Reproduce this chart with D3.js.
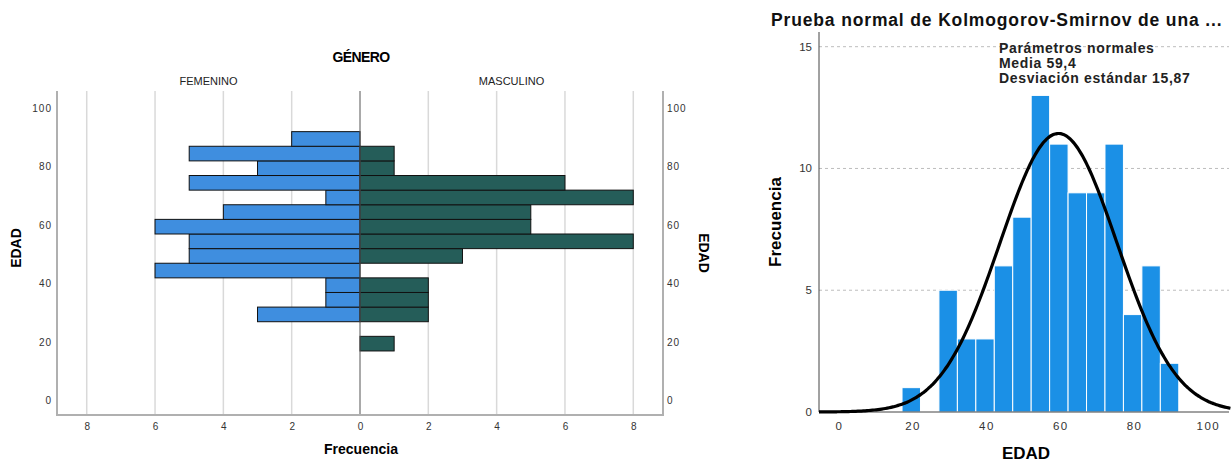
<!DOCTYPE html>
<html>
<head>
<meta charset="utf-8">
<script src="https://d3js.org/d3.v7.min.js"></script>
<style>
body{margin:0;background:#fff;}
svg{display:block;}
text{font-family:"Liberation Sans",Arial,sans-serif;}
</style>
</head>
<body></body>
<script>
const W = 1232, H = 463;

// age bins (lower edges, width 5)
const binStarts = [17,22,27,32,37,42,47,52,57,62,67,72,77,82,87];
const femenino  = [0, 0, 3, 1, 1, 6, 5, 5, 6, 4, 1, 5, 3, 5, 2];
const masculino = [1, 0, 2, 2, 2, 0, 3, 8, 5, 5, 8, 6, 1, 1, 0];
const totalFreq = [1, 0, 5, 3, 3, 6, 8,13,11, 9, 9,11, 4, 6, 2];
const binWidth = 5;

const ageTicks = [0,20,40,60,80,100];
const freqTicks = [-8,-6,-4,-2,0,2,4,6,8];
const histYTicks = [0,5,10,15];
const histXTicks = [0,20,40,60,80,100];

const media = 59.4, desv = 15.87, n = 91;

const svg = d3.select('body').append('svg')
    .attr('width', W).attr('height', H);

// ---------- left: population pyramid ----------
const L = {left:57, right:663, top:91, bottom:415};

const xP = d3.scaleLinear().domain([-8.87, 8.87]).range([L.left, L.right]);
const yP = d3.scaleLinear().domain([-4.9, 105.9]).range([L.bottom, L.top]);

const gP = svg.append('g');

gP.selectAll('line.grid')
    .data(freqTicks.filter(d=>d!==0))
    .enter().append('line')
    .attr('x1', d=>xP(d)).attr('x2', d=>xP(d))
    .attr('y1', L.top).attr('y2', L.bottom)
    .attr('stroke', '#d9d9d9').attr('stroke-width', 1.5);

const rows = binStarts.map((b,i)=>({b, f:femenino[i], m:masculino[i]}));

gP.selectAll('rect.fem')
    .data(rows.filter(d=>d.f>0))
    .enter().append('rect')
    .attr('x', d=>xP(-d.f))
    .attr('y', d=>yP(d.b+binWidth))
    .attr('width', d=>xP(0)-xP(-d.f))
    .attr('height', d=>yP(d.b)-yP(d.b+binWidth))
    .attr('fill', '#3f8edf')
    .attr('stroke', '#111').attr('stroke-width', 1);

gP.selectAll('rect.mas')
    .data(rows.filter(d=>d.m>0))
    .enter().append('rect')
    .attr('x', xP(0))
    .attr('y', d=>yP(d.b+binWidth))
    .attr('width', d=>xP(d.m)-xP(0))
    .attr('height', d=>yP(d.b)-yP(d.b+binWidth))
    .attr('fill', '#255d59')
    .attr('stroke', '#111').attr('stroke-width', 1);

// zero line
gP.append('line')
    .attr('x1', xP(0)).attr('x2', xP(0))
    .attr('y1', L.top).attr('y2', L.bottom)
    .attr('stroke', '#555').attr('stroke-width', 1);

// frame lines (left, bottom, right)
gP.append('path')
    .attr('d', `M${L.left},${L.top}V${L.bottom}H${L.right}V${L.top}`)
    .attr('fill', 'none').attr('stroke', '#b0b0b0').attr('stroke-width', 2);

// tick labels
gP.selectAll('text.yl')
    .data(ageTicks).enter().append('text')
    .attr('x', L.left-5).attr('y', d=>yP(d)+3.5)
    .attr('text-anchor', 'end')
    .attr('font-size', 10).attr('letter-spacing', 1).attr('fill', '#333')
    .text(d=>d);
gP.selectAll('text.yr')
    .data(ageTicks).enter().append('text')
    .attr('x', L.right+4).attr('y', d=>yP(d)+3.5)
    .attr('text-anchor', 'start')
    .attr('font-size', 10).attr('letter-spacing', 1).attr('fill', '#333')
    .text(d=>d);
gP.selectAll('text.xl')
    .data(freqTicks).enter().append('text')
    .attr('x', d=>xP(d)+0.5).attr('y', L.bottom+15)
    .attr('text-anchor', 'middle')
    .attr('font-size', 10).attr('fill', '#333')
    .text(d=>Math.abs(d));

gP.append('text')
    .attr('x', 361).attr('y', 62)
    .attr('text-anchor', 'middle')
    .attr('font-size', 14).attr('font-weight', 'bold').attr('letter-spacing', -0.6)
    .text('GÉNERO');
gP.append('text')
    .attr('x', (xP(-8.87)+xP(0))/2).attr('y', 85)
    .attr('text-anchor', 'middle').attr('font-size', 11).attr('fill', '#222')
    .text('FEMENINO');
gP.append('text')
    .attr('x', (xP(0)+xP(8.87))/2).attr('y', 85)
    .attr('text-anchor', 'middle').attr('font-size', 11).attr('fill', '#222')
    .text('MASCULINO');
gP.append('text')
    .attr('x', 361).attr('y', 454)
    .attr('text-anchor', 'middle')
    .attr('font-size', 14).attr('font-weight', 'bold')
    .text('Frecuencia');
gP.append('text')
    .attr('transform', 'translate(21,248) rotate(-90)')
    .attr('text-anchor', 'middle')
    .attr('font-size', 14).attr('font-weight', 'bold')
    .text('EDAD');
gP.append('text')
    .attr('transform', 'translate(699,253) rotate(90)')
    .attr('text-anchor', 'middle')
    .attr('font-size', 14).attr('font-weight', 'bold')
    .text('EDAD');

// ---------- right: histogram with normal curve ----------
const R = {left:819, right:1229, top:32, bottom:412};

const xH = d3.scaleLinear().domain([0,100]).range([839.3, 1208.3]);
const yH = d3.scaleLinear().domain([0,15]).range([412, 46.7]);

const gH = svg.append('g');

gH.selectAll('line.hg')
    .data(histYTicks.filter(d=>d>0))
    .enter().append('line')
    .attr('x1', R.left).attr('x2', R.right)
    .attr('y1', d=>yH(d)).attr('y2', d=>yH(d))
    .attr('stroke', '#bdbdbd').attr('stroke-width', 1)
    .attr('stroke-dasharray', '3,3');

const hist = binStarts.map((b,i)=>({b, v:totalFreq[i]}));
gH.selectAll('rect.hb')
    .data(hist.filter(d=>d.v>0))
    .enter().append('rect')
    .attr('x', d=>xH(d.b))
    .attr('y', d=>yH(d.v))
    .attr('width', d=>xH(d.b+binWidth)-xH(d.b))
    .attr('height', d=>yH(0)-yH(d.v))
    .attr('fill', '#1b90e6')
    .attr('stroke', '#fff').attr('stroke-width', 1);

// axes lines
gH.append('line')
    .attr('x1', R.left).attr('x2', R.left)
    .attr('y1', R.top).attr('y2', R.bottom)
    .attr('stroke', '#444').attr('stroke-width', 1);
gH.append('line')
    .attr('x1', R.left).attr('x2', R.right)
    .attr('y1', R.bottom).attr('y2', R.bottom)
    .attr('stroke', '#444').attr('stroke-width', 1);

// normal curve
const curveX = d3.range(xH.invert(R.left), xH.invert(R.right)+0.5, 0.5);
const dens = x => n*binWidth/(desv*Math.sqrt(2*Math.PI))*Math.exp(-0.5*((x-media)/desv)**2);
gH.append('path')
    .datum(curveX)
    .attr('d', d3.line().x(d=>xH(d)).y(d=>yH(dens(d))).curve(d3.curveBasis))
    .attr('fill', 'none').attr('stroke', '#000').attr('stroke-width', 3.2);

gH.selectAll('text.hy')
    .data(histYTicks).enter().append('text')
    .attr('x', 812).attr('y', d=>yH(d)+4)
    .attr('text-anchor', 'end')
    .attr('font-size', 11.5).attr('fill', '#333')
    .text(d=>d);
gH.selectAll('text.hx')
    .data(histXTicks).enter().append('text')
    .attr('x', d=>xH(d)).attr('y', 430)
    .attr('text-anchor', 'middle')
    .attr('font-size', 11.5).attr('letter-spacing', 1.4).attr('fill', '#333')
    .text(d=>d);

gH.append('text')
    .attr('x', 771).attr('y', 26)
    .attr('font-size', 17.5).attr('font-weight', 'bold').attr('letter-spacing', 0.85)
    .attr('fill', '#111')
    .text('Prueba normal de Kolmogorov-Smirnov de una ...');

const notes = ['Parámetros normales','Media 59,4','Desviación estándar 15,87'];
gH.selectAll('text.note')
    .data(notes).enter().append('text')
    .attr('x', 999).attr('y', (d,i)=>53+i*15)
    .attr('font-size', 14).attr('font-weight', 'bold').attr('letter-spacing', 0.65)
    .attr('fill', '#222')
    .text(d=>d);

gH.append('text')
    .attr('transform', 'translate(781,222) rotate(-90)')
    .attr('text-anchor', 'middle')
    .attr('font-size', 17).attr('font-weight', 'bold')
    .text('Frecuencia');
gH.append('text')
    .attr('x', 1026).attr('y', 459)
    .attr('text-anchor', 'middle')
    .attr('font-size', 17).attr('font-weight', 'bold')
    .text('EDAD');
</script>
</html>
